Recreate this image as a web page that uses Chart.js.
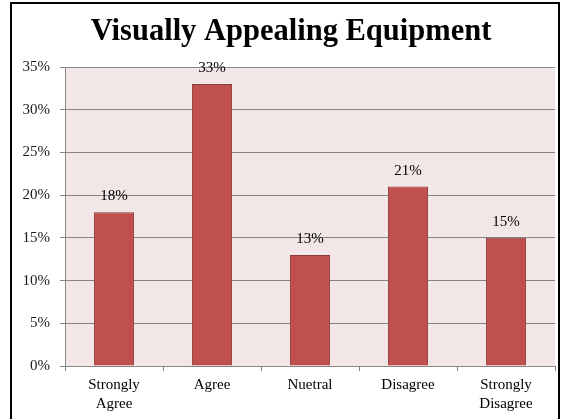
<!DOCTYPE html>
<html>
<head>
<meta charset="utf-8">
<script src="https://cdn.jsdelivr.net/npm/chart.js@4/dist/chart.umd.min.js"></script>
<style>
  html, body { margin: 0; padding: 0; background: #fff; }
  #wrap { position: relative; width: 562px; height: 419px; }
</style>
</head>
<body>
<div id="wrap"><canvas id="chart" width="562" height="419"></canvas></div>
<script>
// Chart data
const categories = [['Strongly', 'Agree'], 'Agree', 'Nuetral', 'Disagree', ['Strongly', 'Disagree']];
const percentages = [18, 33, 13, 21, 15];
const yTicks = [0, 5, 10, 15, 20, 25, 30, 35];
const chartTitle = 'Visually Appealing Equipment';

const serif = '"Liberation Serif", "Times New Roman", serif';

// Pink plot area, outer black frame and the title
const backdrop = {
    id: 'backdrop',
    beforeDraw(chart) {
        const { ctx, chartArea: a } = chart;
        ctx.save();
        ctx.fillStyle = '#f2e6e6';
        ctx.fillRect(a.left, a.top, a.right - a.left, a.bottom - a.top);
        ctx.strokeStyle = '#000';
        ctx.lineWidth = 2;
        ctx.strokeRect(11, 3, 548, 430);
        ctx.fillStyle = '#000';
        ctx.font = 'bold 30.5px ' + serif;
        ctx.textAlign = 'center';
        ctx.textBaseline = 'alphabetic';
        ctx.fillText(chartTitle, 291, 40);
        ctx.restore();
    }
};

// Value labels above each bar
const valueLabels = {
    id: 'valueLabels',
    afterDatasetsDraw(chart) {
        const { ctx } = chart;
        const meta = chart.getDatasetMeta(0);
        ctx.save();
        ctx.font = '15px ' + serif;
        ctx.fillStyle = '#000';
        ctx.textAlign = 'center';
        ctx.textBaseline = 'middle';
        meta.data.forEach((bar, i) => {
            ctx.fillText(percentages[i] + '%', bar.x, bar.y - 16);
        });
        ctx.restore();
    }
};

new Chart(document.getElementById('chart'), {
    type: 'bar',
    data: {
        labels: categories,
        datasets: [{
            data: percentages,
            backgroundColor: '#c0504d',
            borderColor: '#8c3a38',
            borderWidth: 1,
            barPercentage: 0.41,
            categoryPercentage: 1
        }]
    },
    options: {
        responsive: false,
        animation: false,
        layout: { padding: { left: 0, right: 7, top: 67, bottom: 0 } },
        plugins: {
            legend: { display: false },
            tooltip: { enabled: false },
            title: { display: false }
        },
        scales: {
            x: {
                grid: {
                    drawOnChartArea: false,
                    drawTicks: true,
                    tickLength: 5,
                    color: '#868686',
                    offset: true
                },
                border: { color: '#868686' },
                ticks: {
                    color: '#000',
                    padding: 4,
                    maxRotation: 0,
                    font: { family: serif, size: 15, lineHeight: 1.3 }
                },
                afterFit(scale) { scale.height = 53; }
            },
            y: {
                min: 0,
                max: 35,
                afterBuildTicks(scale) { scale.ticks = yTicks.map(v => ({ value: v })); },
                grid: { color: '#868686', tickLength: 5 },
                border: { color: '#868686' },
                ticks: {
                    color: '#1a1a1a',
                    padding: 10,
                    font: { family: serif, size: 15 },
                    callback: v => v + '%'
                },
                afterFit(scale) { scale.width = 65; }
            }
        }
    },
    plugins: [backdrop, valueLabels]
});
</script>
</body>
</html>
